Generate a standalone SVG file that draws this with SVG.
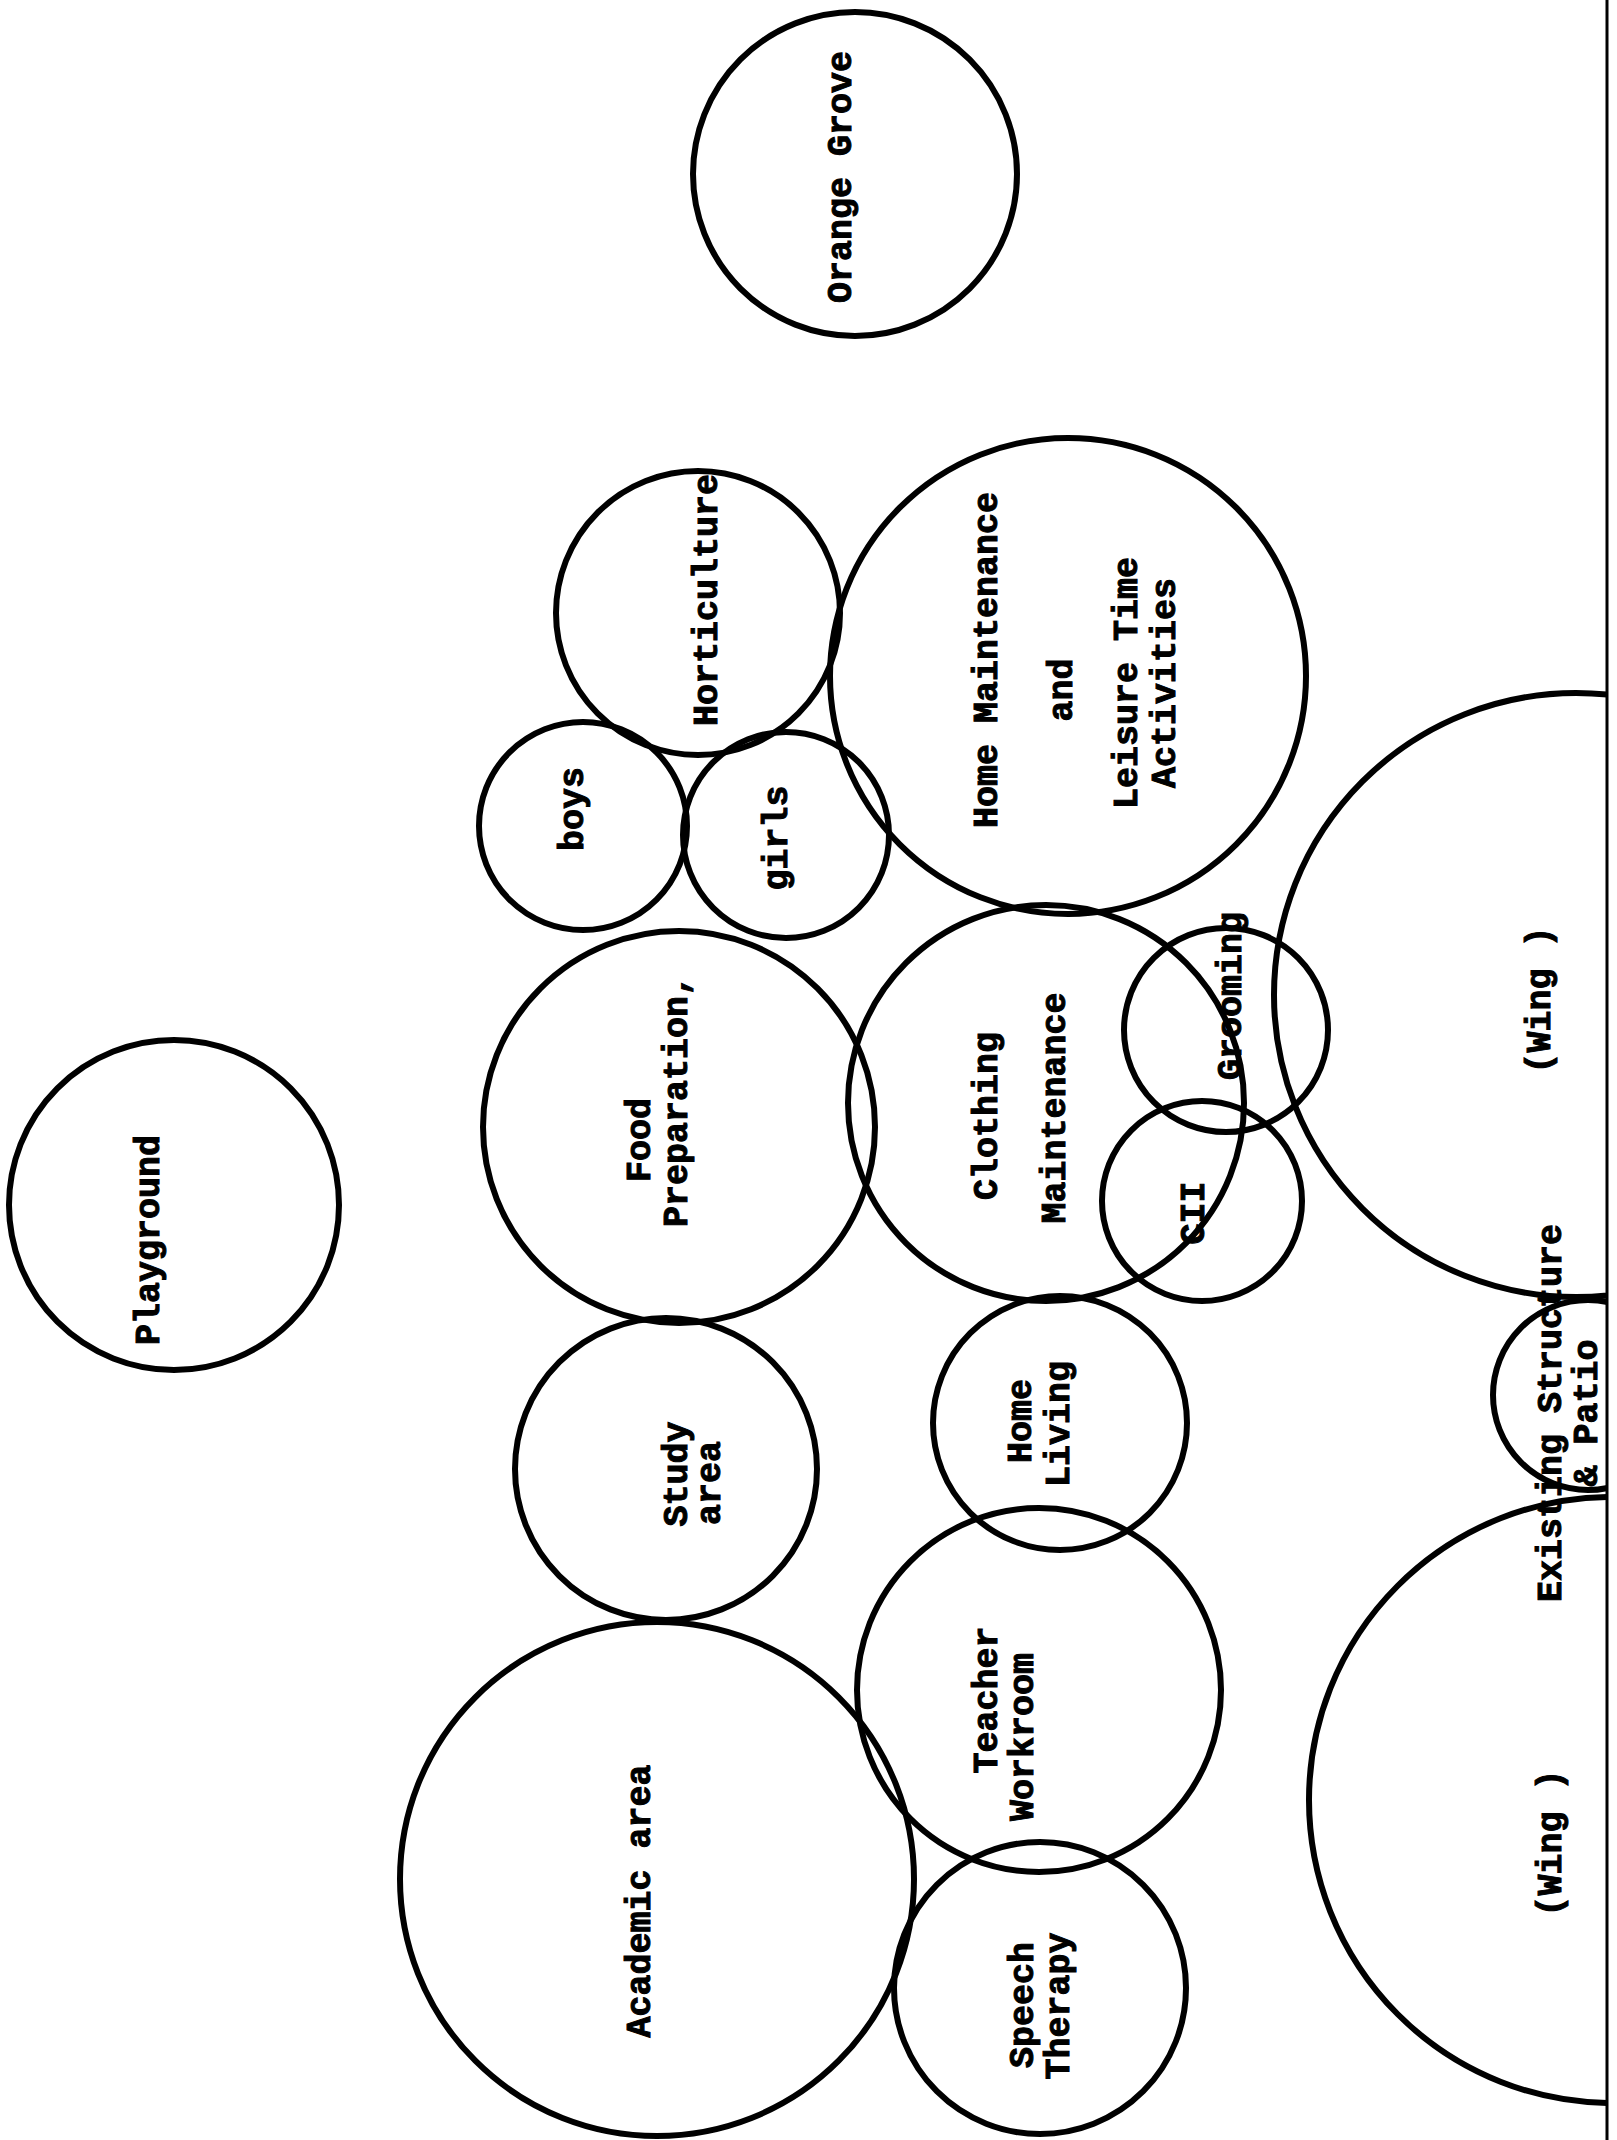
<svg xmlns="http://www.w3.org/2000/svg" width="1617" height="2140" viewBox="0 0 1617 2140">
<style>
.c{fill:none;stroke:#000;stroke-width:6}
.t{font-family:"Liberation Mono","DejaVu Sans Mono",monospace;font-weight:bold;font-size:35px;fill:#000;stroke:#000;stroke-width:1;text-anchor:middle;dominant-baseline:central}
</style>
<defs>
<clipPath id="page"><rect x="0" y="0" width="1607" height="2140"/></clipPath>
</defs>
<rect width="1617" height="2140" fill="#fff"/>
<g id="connectors"></g>
<g id="orange-grove"><circle class="c" cx="855" cy="174" r="162"/><text class="t" transform="translate(842,177) rotate(-90)">Orange Grove</text></g>
<g id="playground"><circle class="c" cx="174" cy="1205" r="165"/><text class="t" transform="translate(150,1240) rotate(-90)">Playground</text></g>
<g id="horticulture"><circle class="c" cx="698" cy="613" r="142"/><text class="t" transform="translate(708,600) rotate(-90)">Horticulture</text></g>
<g id="home-maintenance"><circle class="c" cx="1068" cy="676" r="238"/>
<text class="t" transform="translate(988,660) rotate(-90)">Home Maintenance</text>
<text class="t" transform="translate(1063,690) rotate(-90)">and</text>
<text class="t" transform="translate(1128,683) rotate(-90)">Leisure Time</text>
<text class="t" transform="translate(1166,683) rotate(-90)">Activities</text></g>
<g id="boys"><circle class="c" cx="583" cy="826" r="104"/><text class="t" transform="translate(574,809) rotate(-90)">boys</text></g>
<g id="girls"><circle class="c" cx="786" cy="835" r="103"/><text class="t" transform="translate(778,838) rotate(-90)">girls</text></g>
<g id="food-preparation"><circle class="c" cx="679" cy="1127" r="196"/>
<text class="t" transform="translate(641,1140) rotate(-90)">Food</text>
<text class="t" transform="translate(678,1101) rotate(-90)">Preparation,</text></g>
<g id="clothing-maintenance"><circle class="c" cx="1046" cy="1103" r="198"/>
<text class="t" transform="translate(988,1116) rotate(-90)">Clothing</text>
<text class="t" transform="translate(1056,1108) rotate(-90)">Maintenance</text></g>
<g id="grooming"><circle class="c" cx="1226" cy="1030" r="102"/><text class="t" transform="translate(1232,996) rotate(-90)">Grooming</text></g>
<g id="cii"><circle class="c" cx="1202" cy="1201" r="100"/><text class="t" transform="translate(1195,1213) rotate(-90)">CII</text></g>
<g id="wing-top"><circle class="c" cx="1576" cy="995" r="302" clip-path="url(#page)"/><text class="t" transform="translate(1541,1000) rotate(-90)">(Wing )</text></g>
<g id="patio"><circle class="c" cx="1588" cy="1395" r="95" clip-path="url(#page)"/>
<text class="t" transform="translate(1552,1413) rotate(-90)">Existing Structure</text>
<text class="t" transform="translate(1588,1413) rotate(-90)">&amp; Patio</text></g>
<g id="wing-bottom"><circle class="c" cx="1612" cy="1800" r="303" clip-path="url(#page)"/><text class="t" transform="translate(1552,1843) rotate(-90)">(Wing )</text></g>
<g id="study-area"><circle class="c" cx="666" cy="1469" r="151"/>
<text class="t" transform="translate(678,1474) rotate(-90)">Study</text>
<text class="t" transform="translate(711,1483) rotate(-90)">area</text></g>
<g id="home-living"><circle class="c" cx="1060" cy="1423" r="127"/>
<text class="t" transform="translate(1022,1421) rotate(-90)">Home</text>
<text class="t" transform="translate(1060,1424) rotate(-90)">Living</text></g>
<g id="teacher-workroom"><circle class="c" cx="1039" cy="1690" r="182"/>
<text class="t" transform="translate(988,1700) rotate(-90)">Teacher</text>
<text class="t" transform="translate(1024,1737) rotate(-90)">Workroom</text></g>
<g id="academic-area"><circle class="c" cx="657" cy="1879" r="257"/><text class="t" transform="translate(641,1901) rotate(-90)">Academic area</text></g>
<g id="speech-therapy"><circle class="c" cx="1040" cy="1988" r="146"/>
<text class="t" transform="translate(1024,2005) rotate(-90)">Speech</text>
<text class="t" transform="translate(1060,2006) rotate(-90)">Therapy</text></g>
<g id="border"><line x1="1607" y1="0" x2="1607" y2="2140" stroke="#000" stroke-width="3"/></g>
</svg>
